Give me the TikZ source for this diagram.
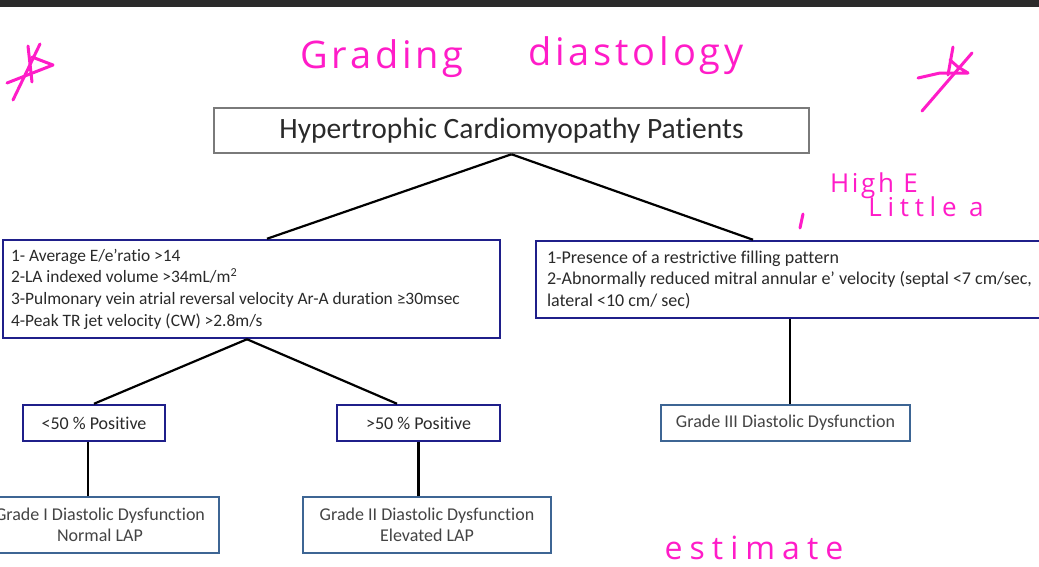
\documentclass[tikz,border=0pt]{standalone}
\usepackage{fontspec}
\setmainfont{Carlito}[Ligatures={NoCommon}]
\newfontfamily\handfont{Open Sans}[LetterSpace=10]
\newfontfamily\handwide{Open Sans}[LetterSpace=22]
\usetikzlibrary{calc}
\definecolor{navy}{HTML}{1F1F8A}
\definecolor{steel}{HTML}{3D6594}
\definecolor{handc}{HTML}{FF1CC8}
\definecolor{txt}{HTML}{2A2A2A}
\definecolor{gtxt}{HTML}{444444}
\definecolor{bar}{HTML}{2B2B2B}
\definecolor{tborder}{HTML}{7A7A7A}
\newcommand\nsp{\spaceskip=0pt\xspaceskip=0pt\relax}
\begin{document}
\begin{tikzpicture}[x=1pt,y=-1pt,
  titlebox/.style={draw=tborder, line width=2.5pt, fill=white, minimum width=595pt, minimum height=45pt, inner sep=0pt, text=txt, font=\fontsize{29.5}{34}\selectfont},
  critbox/.style={draw=navy, line width=2.5pt, fill=white, align=left, inner ysep=0pt, text=txt},
  posbox/.style={draw=navy, line width=2.5pt, fill=white, minimum height=36pt, inner sep=0pt, text=txt, font=\fontsize{18}{21}\selectfont},
  gradebox/.style={draw=steel, line width=2pt, fill=white, inner sep=0pt, align=center, text=gtxt, font=\fontsize{18}{21}\selectfont},
  link/.style={line width=2.2pt, black},
  handtext/.style={text=handc, inner sep=0pt, anchor=base, font=\handfont\fontsize{38}{42}\selectfont},
  handstroke/.style={draw=handc, line width=3pt, line cap=round, line join=round}
]
\useasboundingbox (0,0) rectangle (1039,566);
\fill[white] (0,0) rectangle (1039,566);
\fill[bar] (0,0) rectangle (1039,7);

% boxes
\node[titlebox] (title) at (511.5,130.5) {Hypertrophic Cardiomyopathy Patients};
\node[critbox, text width=481pt, inner xsep=8pt, minimum height=98pt, font=\fontsize{17.4}{21.7}\selectfont] (crit) at (251.5,289)
  {\nsp 1- Average E/e’ratio >14\\
   2-LA indexed volume >34mL/m\textsuperscript{2}\\
   3-Pulmonary vein atrial reversal velocity Ar-A duration ≥30msec\\
   4-Peak TR jet velocity (CW) >2.8m/s};
\node[critbox, text width=495pt, inner xsep=11pt, minimum height=77pt, font=\fontsize{18}{21.5}\selectfont] (restr) at (794.5,279.5)
  {\nsp 1-Presence of a restrictive filling pattern\\
   2-Abnormally reduced mitral annular e’ velocity (septal <7 cm/sec,\\
   lateral <10 cm/ sec)};
\node[posbox, minimum width=142pt] (pos1) at (94,423) {<50 \% Positive};
\node[posbox, minimum width=163pt] (pos2) at (418.5,423) {>50 \% Positive};
\node[gradebox, minimum width=238pt, minimum height=56pt] (g1) at (100,525) {Grade I Diastolic Dysfunction\\Normal LAP};
\node[gradebox, minimum width=248pt, minimum height=56pt] (g2) at (427,525) {Grade II Diastolic Dysfunction\\Elevated LAP};
\node[gradebox, minimum width=249pt, minimum height=36pt] (g3) at (785.5,423) {Grade III Diastolic Dysfunction};

% connectors
\draw[link] (title.south) -- ($(crit.north)+(15.5,0)$);
\draw[link] (title.south) -- ($(restr.north)+(-41.5,0)$);
\draw[link] ($(crit.south)+(-4.5,0)$) -- (pos1.north);
\draw[link] ($(crit.south)+(-4.5,0)$) -- ($(pos2.north)+(-21.5,0)$);
\coordinate (p1b) at ($(pos1.south)+(-6,0)$);
\draw[link] (p1b) -- (p1b |- g1.north);
\draw[link] (pos2.south) -- (pos2.south |- g2.north);
\coordinate (rb) at ($(restr.south)+(-4.5,0)$);
\draw[link] (rb) -- (rb |- g3.north);

% handwritten annotations
\node[handtext] (hw1) at (382,68) {Grading};
\node[handtext] (hw2) at (636,65) {diastology};
\node[handtext, font=\handfont\fontsize{26}{30}\selectfont] (hw3) at (874,192) {High E};
\node[handtext, font=\handwide\fontsize{26}{30}\selectfont] (hw4) at (926,216) {Little a};
\node[handtext, font=\handwide\fontsize{32}{36}\selectfont] (hw5) at (754,559) {estimate};
\draw[handstroke] (803,214) -- (800,228);

% stars
\draw[handstroke] (40,44) -- (13,100);
\draw[handstroke] (28,46) -- (32,82);
\draw[handstroke] (32,57) -- (53,65) -- (7,83);
\draw[handstroke] (972,53) -- (922,111);
\draw[handstroke] (953,47) -- (948,75);
\draw[handstroke] (918,78) -- (940,73) -- (968,73) -- (958,67) -- (950,60);
\end{tikzpicture}
\end{document}
